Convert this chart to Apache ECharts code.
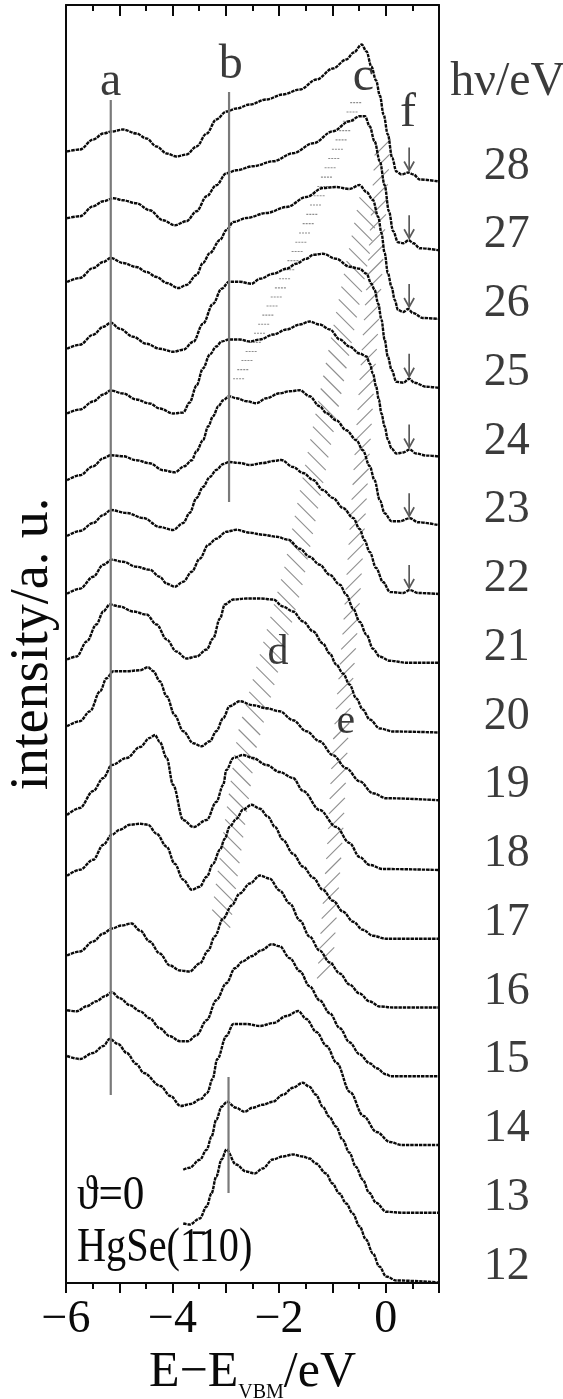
<!DOCTYPE html>
<html>
<head>
<meta charset="utf-8">
<script src="https://cdn.jsdelivr.net/npm/echarts@6/dist/echarts.min.js"></script>
<style>
html, body { margin: 0; padding: 0; background: #fff; }
#chart { width: 563px; height: 1399px; }
</style>
</head>
<body>
<div id="chart"></div>
<script>
const photonEnergies = [12, 13, 14, 15, 16, 17, 18, 19, 20, 21, 22, 23, 24, 25, 26, 27, 28]

// [E - E_VBM (eV), intensity above the curve's own baseline (a.u.)]
const hv12 = [[-3.8,59],[-3.68,58],[-3.49,64],[-3.36,76],[-3.27,89],[-3.18,106],[-3.08,123],[-2.99,133],[-2.81,118],[-2.62,111],[-2.46,109],[-2.31,114],[-2.12,123],[-1.93,126],[-1.74,128],[-1.56,126],[-1.43,124],[-1.31,119],[-1.12,109],[-1.0,99],[-0.87,89],[-0.74,79],[-0.62,69],[-0.49,56],[-0.37,43],[-0.24,29],[-0.12,16],[0.01,6],[0.2,2],[1.0,0]]
const hv13 = [[-3.8,44],[-3.68,46],[-3.49,54],[-3.36,64],[-3.27,77],[-3.18,94],[-3.08,107],[-2.98,112],[-2.81,106],[-2.65,102],[-2.5,106],[-2.31,109],[-2.12,112],[-1.93,119],[-1.74,126],[-1.56,131],[-1.43,127],[-1.31,119],[-1.18,107],[-1.06,97],[-0.93,87],[-0.81,74],[-0.68,61],[-0.56,47],[-0.43,34],[-0.31,21],[-0.18,11],[0.01,2],[0.32,1],[1.0,1]]
const hv14 = [[-5.98,89],[-5.74,86],[-5.49,92],[-5.3,99],[-5.18,106],[-5.02,101],[-4.86,92],[-4.68,81],[-4.54,72],[-4.23,59],[-4.04,49],[-3.85,39],[-3.66,41],[-3.47,46],[-3.35,52],[-3.25,66],[-3.16,86],[-2.99,109],[-2.86,121],[-2.61,121],[-2.36,119],[-2.11,122],[-1.86,129],[-1.64,134],[-1.49,126],[-1.3,113],[-1.11,99],[-0.92,82],[-0.67,53],[-0.42,29],[-0.17,13],[0.08,3],[0.3,0],[1.0,0]]
const hv15 = [[-5.98,66],[-5.8,65],[-5.61,70],[-5.43,75],[-5.27,80],[-5.14,84],[-4.99,78],[-4.8,71],[-4.61,65],[-4.43,58],[-4.24,48],[-4.05,40],[-3.86,35],[-3.71,35],[-3.55,41],[-3.36,56],[-3.18,76],[-2.99,93],[-2.83,108],[-2.68,115],[-2.52,120],[-2.33,126],[-2.14,132],[-1.99,130],[-1.8,118],[-1.61,105],[-1.43,90],[-1.24,76],[-1.05,63],[-0.86,48],[-0.68,34],[-0.49,22],[-0.3,13],[-0.17,8],[0.0,2],[0.1,0],[1.0,0]]
const hv16 = [[-5.98,52],[-5.74,56],[-5.49,66],[-5.3,74],[-5.14,79],[-4.96,82],[-4.77,84],[-4.61,77],[-4.43,66],[-4.24,54],[-4.05,42],[-3.86,37],[-3.68,36],[-3.49,44],[-3.33,57],[-3.21,71],[-3.05,89],[-2.89,102],[-2.74,114],[-2.55,124],[-2.36,132],[-2.18,129],[-1.99,117],[-1.8,104],[-1.61,87],[-1.43,71],[-1.24,57],[-1.05,45],[-0.86,34],[-0.68,23],[-0.49,14],[-0.3,6],[-0.11,1],[0.14,0],[1.0,0]]
const hv17 = [[-5.98,63],[-5.74,69],[-5.49,79],[-5.3,94],[-5.14,104],[-4.99,109],[-4.8,114],[-4.61,115],[-4.46,114],[-4.3,105],[-4.11,92],[-3.96,75],[-3.8,59],[-3.64,49],[-3.49,52],[-3.36,62],[-3.24,75],[-3.11,89],[-3.02,100],[-2.93,112],[-2.8,120],[-2.68,129],[-2.52,134],[-2.36,130],[-2.21,122],[-2.08,112],[-1.93,99],[-1.74,85],[-1.55,72],[-1.36,61],[-1.18,49],[-0.99,38],[-0.8,27],[-0.61,17],[-0.43,9],[-0.24,3],[0.01,0],[1.0,0]]
const hv18 = [[-5.98,55],[-5.74,62],[-5.49,79],[-5.3,92],[-5.14,105],[-4.86,112],[-4.61,123],[-4.43,132],[-4.33,135],[-4.24,128],[-4.11,112],[-3.99,85],[-3.8,50],[-3.61,43],[-3.36,50],[-3.18,68],[-3.05,85],[-2.99,100],[-2.86,112],[-2.68,115],[-2.49,112],[-2.24,105],[-1.99,98],[-1.74,92],[-1.55,79],[-1.24,60],[-0.93,43],[-0.68,27],[-0.49,13],[-0.3,5],[-0.05,1],[1.0,0]]
const hv19 = [[-5.98,75],[-5.74,80],[-5.55,90],[-5.36,110],[-5.24,123],[-5.11,130],[-4.86,130],[-4.61,131],[-4.46,134],[-4.36,130],[-4.24,120],[-4.11,105],[-3.96,86],[-3.8,70],[-3.61,58],[-3.46,55],[-3.3,60],[-3.18,70],[-3.05,83],[-2.93,95],[-2.74,100],[-2.49,96],[-2.24,93],[-1.99,90],[-1.74,81],[-1.49,70],[-1.24,60],[-0.99,46],[-0.74,33],[-0.49,20],[-0.24,8],[0.01,3],[1.0,1]]
const hv20 = [[-5.98,73],[-5.8,76],[-5.61,91],[-5.43,108],[-5.3,121],[-5.18,128],[-4.99,126],[-4.74,121],[-4.49,118],[-4.3,108],[-4.11,93],[-3.93,81],[-3.74,74],[-3.55,76],[-3.36,83],[-3.24,94],[-3.11,114],[-3.02,128],[-2.86,133],[-2.61,134],[-2.36,134],[-2.11,133],[-1.93,126],[-1.74,121],[-1.55,111],[-1.36,101],[-1.18,89],[-1.05,79],[-0.93,68],[-0.8,59],[-0.68,48],[-0.55,34],[-0.43,23],[-0.3,13],[-0.11,4],[0.14,1],[1.0,0]]
const hv21 = [[-5.98,70],[-5.74,75],[-5.49,87],[-5.3,99],[-5.14,104],[-4.93,102],[-4.68,97],[-4.43,94],[-4.24,87],[-4.11,80],[-3.96,77],[-3.8,82],[-3.64,92],[-3.49,105],[-3.33,119],[-3.18,125],[-2.99,132],[-2.8,134],[-2.55,131],[-2.3,129],[-2.05,127],[-1.83,124],[-1.61,115],[-1.43,107],[-1.24,99],[-1.05,89],[-0.86,79],[-0.74,69],[-0.61,55],[-0.49,42],[-0.36,29],[-0.24,15],[-0.11,7],[0.08,3],[0.39,1],[1.0,1]]
const hv22 = [[-5.98,59],[-5.74,64],[-5.49,72],[-5.3,80],[-5.16,85],[-4.86,82],[-4.55,77],[-4.24,68],[-3.99,65],[-3.8,72],[-3.68,82],[-3.55,97],[-3.43,108],[-3.3,118],[-3.18,125],[-3.05,131],[-2.94,133],[-2.74,132],[-2.55,130],[-2.3,132],[-2.11,134],[-1.96,135],[-1.74,128],[-1.55,122],[-1.36,115],[-1.18,105],[-0.99,97],[-0.8,87],[-0.61,77],[-0.49,66],[-0.4,55],[-0.3,43],[-0.18,27],[-0.05,13],[0.08,3],[0.33,2],[0.45,5],[0.61,2],[1.0,1]]
const hv23 = [[-5.98,46],[-5.74,51],[-5.49,60],[-5.3,68],[-5.16,71],[-4.93,70],[-4.68,66],[-4.43,63],[-4.18,56],[-3.96,54],[-3.78,60],[-3.64,66],[-3.55,75],[-3.43,86],[-3.33,100],[-3.24,110],[-3.14,120],[-3.05,126],[-2.94,130],[-2.8,128],[-2.61,125],[-2.43,123],[-2.24,128],[-1.99,133],[-1.8,135],[-1.61,136],[-1.43,130],[-1.24,120],[-1.11,113],[-0.93,106],[-0.74,96],[-0.55,86],[-0.43,76],[-0.3,60],[-0.21,46],[-0.11,26],[-0.02,13],[0.11,5],[0.26,5],[0.45,8],[0.61,4],[1.0,1]]
const hv24 = [[-5.98,44],[-5.74,48],[-5.49,56],[-5.3,63],[-5.16,67],[-4.93,64],[-4.68,58],[-4.43,54],[-4.24,49],[-3.99,44],[-3.8,45],[-3.68,55],[-3.55,72],[-3.43,89],[-3.3,103],[-3.18,111],[-3.08,116],[-2.94,118],[-2.74,118],[-2.55,116],[-2.36,118],[-2.11,123],[-1.86,128],[-1.61,133],[-1.43,136],[-1.24,133],[-1.05,128],[-0.86,118],[-0.68,111],[-0.49,104],[-0.36,101],[-0.3,94],[-0.24,84],[-0.18,71],[-0.13,58],[-0.08,44],[-0.02,31],[0.04,18],[0.11,9],[0.2,4],[0.33,5],[0.45,8],[0.57,4],[0.76,2],[1.0,1]]
const hv25 = [[-5.98,40],[-5.74,44],[-5.49,54],[-5.3,62],[-5.16,66],[-4.99,60],[-4.74,52],[-4.49,45],[-4.24,40],[-3.99,37],[-3.8,39],[-3.61,47],[-3.43,65],[-3.24,85],[-3.08,100],[-2.94,107],[-2.74,107],[-2.52,105],[-2.36,110],[-2.11,115],[-1.86,120],[-1.68,125],[-1.49,130],[-1.36,134],[-1.18,135],[-0.93,130],[-0.68,122],[-0.49,120],[-0.36,115],[-0.27,105],[-0.21,99],[-0.14,85],[-0.08,69],[-0.02,49],[0.04,32],[0.11,19],[0.2,7],[0.33,6],[0.44,10],[0.54,6],[0.76,2],[1.0,1]]
const hv26 = [[-5.98,38],[-5.74,42],[-5.49,52],[-5.3,58],[-5.16,62],[-4.93,57],[-4.68,53],[-4.49,48],[-4.3,43],[-4.11,37],[-3.89,32],[-3.74,35],[-3.55,45],[-3.43,57],[-3.3,67],[-3.11,80],[-2.99,90],[-2.86,98],[-2.61,102],[-2.24,107],[-1.86,113],[-1.49,123],[-1.18,132],[-0.93,133],[-0.68,131],[-0.49,135],[-0.36,128],[-0.24,120],[-0.14,103],[-0.08,87],[-0.02,67],[0.04,47],[0.11,33],[0.17,20],[0.23,10],[0.33,8],[0.42,11],[0.51,7],[0.7,2],[1.0,1]]
const hv27 = [[-5.98,33],[-5.74,35],[-5.49,45],[-5.3,50],[-5.11,53],[-4.93,51],[-4.68,48],[-4.43,41],[-4.18,31],[-3.96,26],[-3.74,30],[-3.55,40],[-3.36,55],[-3.18,66],[-2.99,78],[-2.8,81],[-2.49,85],[-2.11,90],[-1.74,98],[-1.36,108],[-0.99,120],[-0.68,130],[-0.49,135],[-0.39,135],[-0.3,125],[-0.21,110],[-0.11,90],[-0.02,66],[0.06,40],[0.14,20],[0.23,9],[0.33,8],[0.43,11],[0.52,8],[0.64,3],[1.0,1]]
const hv28 = [[-5.98,31],[-5.74,33],[-5.49,43],[-5.3,49],[-5.14,51],[-4.93,53],[-4.68,49],[-4.49,44],[-4.3,36],[-4.11,29],[-3.93,26],[-3.74,28],[-3.55,36],[-3.36,49],[-3.18,63],[-2.99,71],[-2.8,74],[-2.55,78],[-2.24,83],[-1.93,88],[-1.61,93],[-1.3,103],[-0.99,114],[-0.74,123],[-0.6,130],[-0.45,138],[-0.36,131],[-0.27,116],[-0.18,102],[-0.11,87],[-0.04,68],[0.04,48],[0.12,25],[0.2,11],[0.3,8],[0.42,10],[0.52,8],[0.64,3],[1.0,1]]

const spectra = [hv12, hv13, hv14, hv15, hv16, hv17, hv18, hv19, hv20, hv21, hv22, hv23, hv24, hv25, hv26, hv27, hv28]

// waterfall stacking
const offsetStep = 68.75
const baselineLift = 0.5
const intensityMax = 1278

const xTickValues = [-6, -4, -2, 0]

// peak markers: a, b (upper and lower segment)
const markerLineE = [-5.16, -2.94, -2.95]
const markerLineFrom = [188, 781, 90]
const markerLineTo = [1183, 1191, 206]

const peakNames = ['a', 'b', 'c', 'f', 'd', 'e']
const peakLabelE = [-5.16, -2.91, -0.42, 0.42, -2.02, -0.75]
const peakLabelI = [1201, 1218, 1206, 1170, 630, 561]

// f feature arrows
const arrowEnergies = [22, 23, 24, 25, 26, 27, 28]
const arrowE = 0.44

// dispersion bands of c, d, e
const hatchC = [[-0.52, 1185], [-1.64, 1033], [-2.78, 901]]
const hatchD = [[-0.3, 1083], [-1.11, 870], [-1.74, 705], [-2.61, 541], [-3.11, 356]]
const hatchE = [[-0.05, 1143], [-0.2, 1013], [-0.35, 903], [-0.5, 783], [-0.65, 663], [-0.85, 543], [-0.95, 443], [-1.14, 311]]

const FONT = "'Liberation Serif', 'DejaVu Serif', serif"
const INK = '#0a0a0a'
const GREY = '#7a7a7a'

function baseOf(i) {
  return (photonEnergies[i] - 12) * offsetStep + baselineLift
}

function spectrumSeries(points, i) {
  const base = baseOf(i)
  return {
    type: 'line',
    name: 'hν=' + photonEnergies[i],
    data: points.map(([e, v]) => [e, v + base]),
    showSymbol: false,
    smooth: 0.35,
    smoothMonotone: 'x',
    silent: true,
    z: 4,
    lineStyle: { color: INK, width: 2.4, type: [3.4, 0.9] },
  }
}

function renderMarkerLine(params, api) {
  const p0 = api.coord([api.value(0), api.value(1)])
  const p1 = api.coord([api.value(0), api.value(2)])
  return {
    type: 'line',
    shape: { x1: p0[0], y1: p0[1], x2: p1[0], y2: p1[1] },
    style: { stroke: GREY, lineWidth: 2.2 },
  }
}

function renderArrow(params, api) {
  const tip = api.coord([api.value(0), api.value(1)])
  const x = tip[0]
  const y = tip[1] - 2
  return {
    type: 'group',
    children: [
      { type: 'line', shape: { x1: x, y1: y - 23, x2: x, y2: y }, style: { stroke: '#5a5a5a', lineWidth: 1.7 } },
      { type: 'polyline', shape: { points: [[x - 5, y - 9], [x, y], [x + 5, y - 9]] }, style: { stroke: '#5a5a5a', lineWidth: 1.7, fill: null } },
    ],
  }
}

const hatchStyles = [
  { path: hatchC, step: 10, dx: 6, dy: 0, dash: [2, 1] },
  { path: hatchD, step: 13, dx: 9, dy: 9, dash: null },
  { path: hatchE, step: 15, dx: 8, dy: -8, dash: null },
]

function renderHatch(params, api) {
  const band = hatchStyles[api.value(2)]
  const pts = band.path.map((p) => api.coord(p))
  const children = []
  let d = band.step / 2
  for (let i = 0; i < pts.length - 1; i++) {
    const [x0, y0] = pts[i]
    const [x1, y1] = pts[i + 1]
    const len = Math.hypot(x1 - x0, y1 - y0)
    while (d <= len) {
      const t = d / len
      const cx = x0 + (x1 - x0) * t
      const cy = y0 + (y1 - y0) * t
      children.push({
        type: 'line',
        shape: { x1: cx - band.dx, y1: cy - band.dy, x2: cx + band.dx, y2: cy + band.dy },
        style: { stroke: '#8e8e8e', lineWidth: 1.1, lineDash: band.dash },
      })
      d += band.step
    }
    d -= len
  }
  return { type: 'group', children }
}

function nearestValue(points, e) {
  let best = points[0]
  for (const p of points) {
    if (Math.abs(p[0] - e) < Math.abs(best[0] - e)) best = p
  }
  return best[1]
}

function buildOption() {
  const axisInk = { color: INK, width: 2 }
  return {
    animation: false,
    backgroundColor: '#ffffff',
    grid: { left: 66, right: 124, top: 5, bottom: 116, containLabel: false, outerBoundsMode: 'none' },
    xAxis: [
      {
        type: 'value',
        min: -6,
        max: 1,
        interval: 1,
        position: 'bottom',
        axisLine: { onZero: false, lineStyle: axisInk },
        axisTick: { inside: false, length: 10, lineStyle: axisInk },
        minorTick: { show: true, splitNumber: 2, length: 6, lineStyle: axisInk },
        splitLine: { show: false },
        axisLabel: {
          margin: 14,
          fontFamily: FONT,
          fontSize: 46,
          color: INK,
          formatter: (v) => (xTickValues.includes(v) ? (v < 0 ? '−' + Math.abs(v) : String(v)) : ''),
        },
        name: '{n|E−E}{s|VBM}{n|/eV}',
        nameLocation: 'middle',
        nameGap: 60,
        nameTextStyle: {
          rich: {
            n: { fontFamily: FONT, fontSize: 50, lineHeight: 60, color: INK },
            s: { fontFamily: FONT, fontSize: 20, lineHeight: 20, color: INK, verticalAlign: 'bottom' },
          },
        },
      },
      {
        type: 'value',
        min: -6,
        max: 1,
        interval: 1,
        position: 'top',
        axisLine: { onZero: false, lineStyle: axisInk },
        axisTick: { inside: true, length: 11, lineStyle: axisInk },
        minorTick: { show: true, splitNumber: 2, length: 6, lineStyle: axisInk },
        splitLine: { show: false },
        axisLabel: { show: false },
      },
    ],
    yAxis: [
      {
        type: 'value',
        min: 0,
        max: intensityMax,
        position: 'left',
        axisLine: { show: true, onZero: false, lineStyle: axisInk },
        axisTick: { show: false },
        axisLabel: { show: false },
        splitLine: { show: false },
        name: 'intensity/a. u.',
        nameLocation: 'middle',
        nameGap: 6,
        nameTextStyle: { fontFamily: FONT, fontSize: 54, color: INK },
      },
      {
        type: 'value',
        min: 0,
        max: intensityMax,
        position: 'right',
        axisLine: { show: true, onZero: false, lineStyle: axisInk },
        axisTick: { show: false },
        axisLabel: { show: false },
        splitLine: { show: false },
      },
    ],
    graphic: [
      {
        type: 'text',
        x: 77,
        y: 1196,
        scaleX: 0.9,
        style: { text: 'ϑ=0', font: '48px ' + FONT, fill: INK, textAlign: 'left', textVerticalAlign: 'middle', align: 'left', verticalAlign: 'middle' },
      },
      {
        type: 'text',
        x: 77,
        y: 1248,
        scaleX: 0.84,
        style: { text: 'HgSe(1\u030410)', font: '48px ' + FONT, fill: INK, textAlign: 'left', textVerticalAlign: 'middle', align: 'left', verticalAlign: 'middle' },
      },
    ],
    series: [
      {
        type: 'custom',
        silent: true,
        z: 2,
        renderItem: renderHatch,
        data: hatchStyles.map((b, i) => [b.path[0][0], b.path[0][1], i]),
      },
      ...spectra.map(spectrumSeries),
      {
        type: 'custom',
        silent: true,
        z: 5,
        renderItem: renderMarkerLine,
        data: markerLineE.map((e, i) => [e, markerLineFrom[i], markerLineTo[i]]),
      },
      {
        type: 'custom',
        silent: true,
        z: 5,
        renderItem: renderArrow,
        data: arrowEnergies.map((hv) => {
          const i = photonEnergies.indexOf(hv)
          return [arrowE, nearestValue(spectra[i], arrowE) + baseOf(i)]
        }),
      },
      {
        type: 'scatter',
        silent: true,
        clip: false,
        symbolSize: 1,
        itemStyle: { color: 'rgba(0,0,0,0)' },
        label: { show: true, position: 'inside', formatter: '{b}', fontFamily: FONT, fontSize: 48, color: INK },
        data: peakNames.map((n, i) => ({
          name: n,
          value: [peakLabelE[i], peakLabelI[i]],
          label: n === 'd' || n === 'e' ? { fontSize: 42 } : undefined,
        })),
      },
      {
        type: 'scatter',
        silent: true,
        clip: false,
        symbolSize: 1,
        itemStyle: { color: 'rgba(0,0,0,0)' },
        label: { show: true, position: 'inside', formatter: '{b}', fontFamily: FONT, fontSize: 46, color: INK },
        data: [
          { name: 'hν/eV', value: [2.29, 1201], label: { fontSize: 48 } },
          ...photonEnergies.map((hv, i) => ({ name: String(hv), value: [2.27, baseOf(i) + 16] })),
        ],
      },
    ],
  }
}

const chart = echarts.init(document.getElementById('chart'), null, { renderer: 'canvas' })
chart.setOption(buildOption())
</script>
</body>
</html>
